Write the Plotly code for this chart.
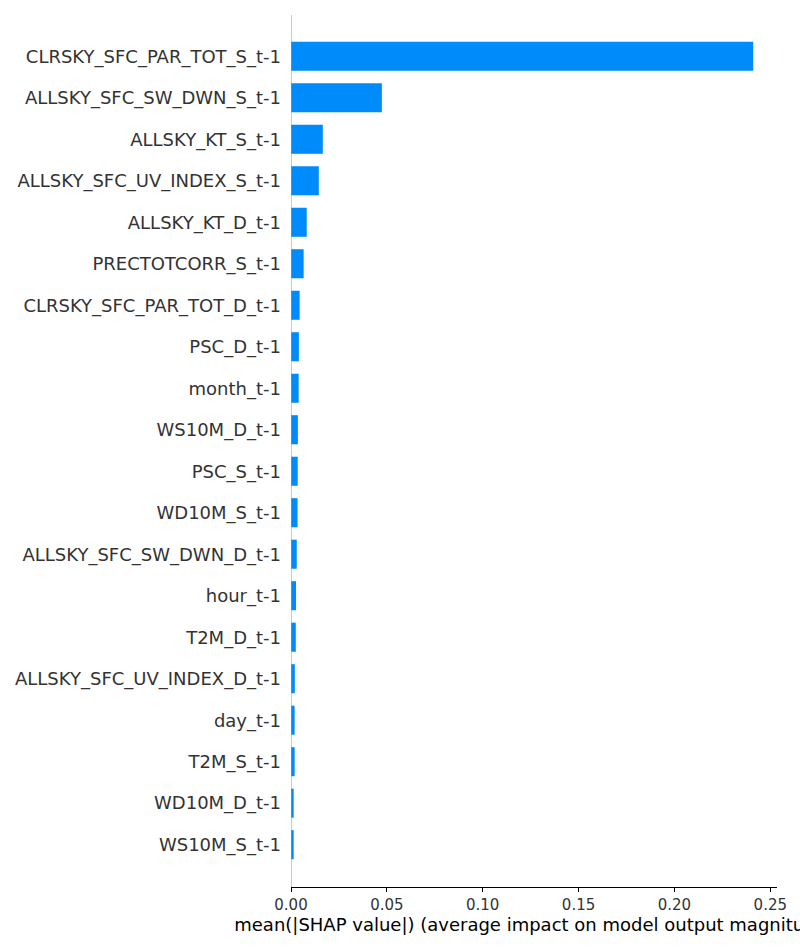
import plotly.graph_objects as go

features = [
    "CLRSKY_SFC_PAR_TOT_S_t-1",
    "ALLSKY_SFC_SW_DWN_S_t-1",
    "ALLSKY_KT_S_t-1",
    "ALLSKY_SFC_UV_INDEX_S_t-1",
    "ALLSKY_KT_D_t-1",
    "PRECTOTCORR_S_t-1",
    "CLRSKY_SFC_PAR_TOT_D_t-1",
    "PSC_D_t-1",
    "month_t-1",
    "WS10M_D_t-1",
    "PSC_S_t-1",
    "WD10M_S_t-1",
    "ALLSKY_SFC_SW_DWN_D_t-1",
    "hour_t-1",
    "T2M_D_t-1",
    "ALLSKY_SFC_UV_INDEX_D_t-1",
    "day_t-1",
    "T2M_S_t-1",
    "WD10M_D_t-1",
    "WS10M_S_t-1",
]
mean_abs_shap = [
    0.2411, 0.0474, 0.0166, 0.0145, 0.0082, 0.0066, 0.0045, 0.0041,
    0.0040, 0.0036, 0.0035, 0.0034, 0.0030, 0.0026, 0.0025, 0.0020,
    0.0019, 0.0019, 0.0014, 0.0014,
]
x_ticks = [0.0, 0.05, 0.10, 0.15, 0.20, 0.25]
x_tick_labels = ["0.00", "0.05", "0.10", "0.15", "0.20", "0.25"]

FONT = "DejaVu Sans"

fig = go.Figure(
    go.Bar(
        x=mean_abs_shap,
        y=features,
        orientation="h",
        marker=dict(color="#008bfb", line=dict(width=0)),
        width=0.7,
    )
)

fig.add_shape(
    type="line", xref="x", yref="paper", x0=0, x1=0, y0=0, y1=1,
    line=dict(color="#999999", width=1), layer="above",
)

fig.update_layout(
    width=800, height=950,
    margin=dict(l=291, r=23, t=15, b=63),
    paper_bgcolor="white", plot_bgcolor="white",
    showlegend=False,
    font=dict(family=FONT, color="#333333"),
)
fig.update_xaxes(
    range=[0, 0.2535],
    tickvals=x_ticks, ticktext=x_tick_labels,
    showgrid=False, zeroline=False,
    showline=True, linecolor="#000000", linewidth=1,
    ticks="outside", ticklen=4, tickwidth=1, tickcolor="#000000",
    tickfont=dict(family=FONT, size=15, color="#333333"),
    title=dict(
        text="mean(|SHAP value|) (average impact on model output magnitude)",
        font=dict(family=FONT, size=18, color="#000000"),
        standoff=5,
    ),
)
fig.update_yaxes(
    type="category",
    range=[20.02, -0.995],
    showgrid=False, zeroline=False, showline=False,
    ticks="", ticklabelstandoff=9,
    tickfont=dict(family=FONT, size=18, color="#333333"),
)

fig.write_html("out.html")
